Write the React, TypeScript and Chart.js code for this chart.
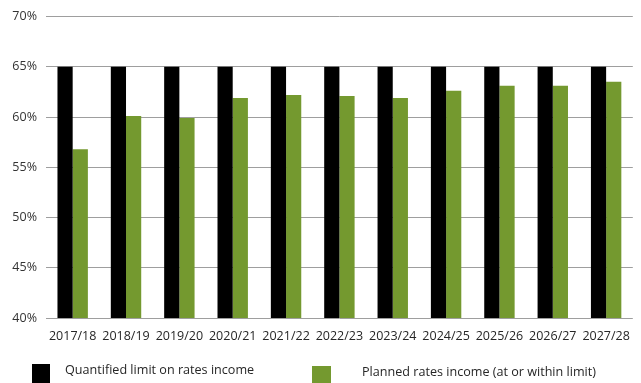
import React, { useEffect, useRef } from "react";
import { Chart, registerables } from "chart.js";

Chart.register(...registerables);

const categories = ["2017/18", "2018/19", "2019/20", "2020/21", "2021/22", "2022/23", "2023/24", "2024/25", "2025/26", "2026/27", "2027/28"];
const limitValues = [65, 65, 65, 65, 65, 65, 65, 65, 65, 65, 65];
const plannedValues = [56.8, 60.1, 59.9, 61.9, 62.2, 62.1, 61.9, 62.6, 63.1, 63.1, 63.5];
const limitLabel = "Quantified limit on rates income";
const plannedLabel = "Planned rates income (at or within limit)";

const BLACK = "#000000";
const GREEN = "#74992f";
const FONT = "'Open Sans', 'Noto Sans', sans-serif";

export default function App() {
  const ref = useRef<HTMLCanvasElement | null>(null);

  useEffect(() => {
    if (!ref.current) return;
    const chart = new Chart(ref.current, {
      type: "bar",
      data: {
        labels: categories,
        datasets: [
          { label: limitLabel, data: limitValues, backgroundColor: BLACK, borderWidth: 0 },
          { label: plannedLabel, data: plannedValues, backgroundColor: GREEN, borderWidth: 0 },
        ],
      },
      options: {
        responsive: false,
        animation: false,
        layout: { padding: { top: 16, right: 3, bottom: 0, left: 0 } },
        datasets: { bar: { barPercentage: 1, categoryPercentage: 0.57 } },
        plugins: { legend: { display: false }, tooltip: { enabled: false } },
        scales: {
          x: {
            grid: { display: false, drawTicks: false },
            border: { display: false },
            ticks: { color: "#262626", font: { family: FONT, size: 12.5 }, padding: 11, maxRotation: 0, autoSkip: false },
            afterFit: (s: any) => { s.height = 65; },
          },
          y: {
            min: 40,
            max: 70,
            grid: { color: "#9e9e9e", lineWidth: 1, drawTicks: false },
            border: { display: false },
            ticks: {
              stepSize: 5,
              color: "#333",
              font: { family: FONT, size: 12.5 },
              padding: 9,
              callback: (v: any) => v + "%",
            },
            afterFit: (s: any) => { s.width = 46; },
          },
        },
      },
    });
    return () => chart.destroy();
  }, []);

  const legendText: React.CSSProperties = {
    position: "absolute",
    fontFamily: FONT,
    fontSize: 12.6,
    color: "#262626",
    top: 362,
    lineHeight: "15px",
    whiteSpace: "nowrap",
  };

  return (
    <div style={{ position: "absolute", left: 0, top: 0, width: 641, height: 383, background: "#fff", overflow: "hidden" }}>
      <canvas ref={ref} width={641} height={383} style={{ position: "absolute", left: 0, top: 0 }} />
      <div style={{ position: "absolute", left: 32, top: 364, width: 18, height: 22, background: BLACK }} />
      <div style={{ ...legendText, left: 65 }}>{limitLabel}</div>
      <div style={{ position: "absolute", left: 312, top: 366, width: 19, height: 22, background: GREEN }} />
      <div style={{ ...legendText, left: 362, top: 364 }}>{plannedLabel}</div>
    </div>
  );
}
